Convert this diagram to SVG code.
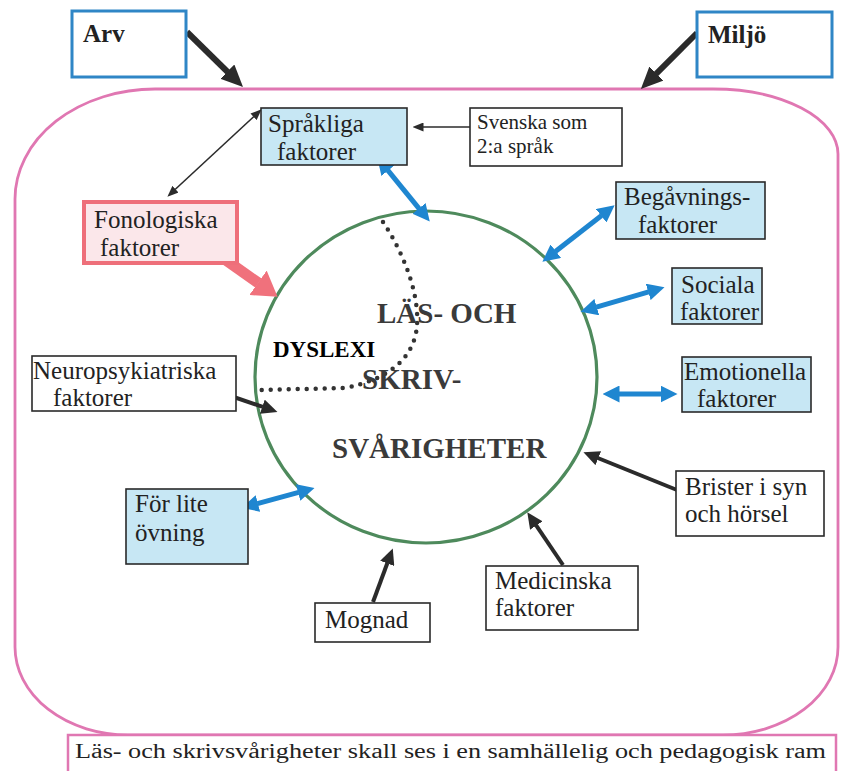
<svg xmlns="http://www.w3.org/2000/svg" width="842" height="771" viewBox="0 0 842 771">
<style>
.t{font-family:"Liberation Serif","Times New Roman",serif;font-size:25px;fill:#222}
.ts{font-family:"Liberation Serif","Times New Roman",serif;font-size:21px;fill:#222}
.tb{font-family:"Liberation Serif","Times New Roman",serif;font-weight:bold;font-size:25px;fill:#222}
.tc{font-family:"Liberation Serif","Times New Roman",serif;font-weight:bold;font-size:29px;fill:#3a3a3a}
.td{font-family:"Liberation Serif","Times New Roman",serif;font-weight:bold;font-size:23px;fill:#000}
.box{fill:#fff;stroke:#2a2a2a;stroke-width:1.6}
.blue{fill:#c7e7f4;stroke:#2a2a2a;stroke-width:1.6}
.top{fill:#fff;stroke:#2f86c6;stroke-width:3}
.bk6{stroke:#2b2b2b;stroke-width:6;fill:none}
.bk4{stroke:#2b2b2b;stroke-width:4;fill:none}
.bk1{stroke:#2b2b2b;stroke-width:1.6;fill:none}
.bl{stroke:#1f86d0;stroke-width:5;fill:none}
.pk{stroke:#f0717c;stroke-width:11;fill:none}
</style>
<defs>
<marker id="hBig" markerUnits="userSpaceOnUse" markerWidth="22" markerHeight="20" refX="0.5" refY="10" orient="auto" viewBox="0 0 22 20"><path d="M0,0 L22,10 L0,20 z" fill="#2b2b2b"/></marker>
<marker id="hMed" markerUnits="userSpaceOnUse" markerWidth="16" markerHeight="15" refX="0.5" refY="7.5" orient="auto" viewBox="0 0 16 15"><path d="M0,0 L16,7.5 L0,15 z" fill="#2b2b2b"/></marker>
<marker id="hThin" markerUnits="userSpaceOnUse" markerWidth="11" markerHeight="9" refX="0.5" refY="4.5" orient="auto-start-reverse" viewBox="0 0 11 9"><path d="M0,0 L11,4.5 L0,9 z" fill="#2b2b2b"/></marker>
<marker id="hBlue" markerUnits="userSpaceOnUse" markerWidth="17" markerHeight="17" refX="0.5" refY="8.5" orient="auto-start-reverse" viewBox="0 0 17 17"><path d="M0,0 L17,8.5 L0,17 z" fill="#1f86d0"/></marker>
<marker id="hPink" markerUnits="userSpaceOnUse" markerWidth="24" markerHeight="30" refX="0.5" refY="15" orient="auto" viewBox="0 0 24 30"><path d="M0,0 L24,15 L0,30 z" fill="#f0717c"/></marker>
</defs>
<rect width="842" height="771" fill="#fff"/>

<g id="frame">
<path d="M155,89 L713,89 A125,65 0 0 1 838,154 L838,647 A115,88 0 0 1 723,735 L128,735 A113,88 0 0 1 15,647 L15,199 A140,110 0 0 1 155,89 Z" fill="none" stroke="#e077b2" stroke-width="2.8"/>
</g>

<g id="center">
<ellipse cx="426" cy="377" rx="171" ry="166" fill="none" stroke="#4e8a5c" stroke-width="3.2"/>
<path d="M383,222 C405,255 422,300 416,333 C410,362 385,380 345,388 L260,390" fill="none" stroke="#333" stroke-width="4.5" stroke-dasharray="0 9" stroke-linecap="round"/>
<text class="tc" x="377" y="323">LÄS- OCH</text>
<text class="tc" x="362" y="389">SKRIV-</text>
<text class="tc" x="332" y="458">SVÅRIGHETER</text>
<text class="td" x="273" y="357">DYSLEXI</text>
</g>

<g id="connectors">
<line class="bk6" x1="187" y1="32" x2="227.7" y2="72" marker-end="url(#hBig)"/>
<line class="bk6" x1="697" y1="33" x2="656.1" y2="73.9" marker-end="url(#hBig)"/>
<line class="bk1" x1="470" y1="127" x2="423" y2="127" marker-end="url(#hThin)"/>
<line class="bk1" x1="253.9" y1="116.5" x2="175.1" y2="189.5" marker-start="url(#hThin)" marker-end="url(#hThin)"/>
<line class="bl" x1="387.7" y1="170.2" x2="419.3" y2="208.8" marker-start="url(#hBlue)" marker-end="url(#hBlue)"/>
<line class="bl" x1="601.6" y1="215.5" x2="555.4" y2="251.5" marker-start="url(#hBlue)" marker-end="url(#hBlue)"/>
<line class="bl" x1="648.7" y1="291.8" x2="596.3" y2="307.2" marker-start="url(#hBlue)" marker-end="url(#hBlue)"/>
<line class="bl" x1="619" y1="394" x2="661" y2="394" marker-start="url(#hBlue)" marker-end="url(#hBlue)"/>
<line class="bl" x1="257.4" y1="503.6" x2="298.6" y2="492.4" marker-start="url(#hBlue)" marker-end="url(#hBlue)"/>
<line class="bk4" x1="677" y1="490" x2="597.8" y2="458" marker-end="url(#hMed)"/>
<line class="bk4" x1="563" y1="565" x2="536" y2="525.2" marker-end="url(#hMed)"/>
<line class="bk4" x1="373" y1="602" x2="387.4" y2="563" marker-end="url(#hMed)"/>
<line class="bk4" x1="222" y1="393" x2="262.8" y2="406.9" marker-end="url(#hMed)"/>
<line class="pk" x1="223" y1="258" x2="258.4" y2="283.1" marker-end="url(#hPink)"/>
</g>

<g id="arv">
<rect class="top" x="72" y="11" width="114" height="66"/>
<text class="tb" x="83" y="42">Arv</text>
</g>
<g id="miljo">
<rect class="top" x="697" y="12" width="135" height="65"/>
<text class="tb" x="708" y="43">Miljö</text>
</g>
<g id="sprakliga">
<rect class="blue" x="261" y="108" width="146" height="57"/>
<text class="t" x="268" y="132">Språkliga</text>
<text class="t" x="277" y="160">faktorer</text>
</g>
<g id="svenska">
<rect class="box" x="470" y="108" width="152" height="58"/>
<text class="ts" x="477" y="129">Svenska som</text>
<text class="ts" x="477" y="153">2:a språk</text>
</g>
<g id="fonologiska">
<rect x="84" y="202" width="153" height="61" fill="#fbe7ea" stroke="#ee6f7a" stroke-width="4"/>
<text class="t" x="94" y="228">Fonologiska</text>
<text class="t" x="100" y="256">faktorer</text>
</g>
<g id="begavnings">
<rect class="blue" x="616" y="182" width="149" height="57"/>
<text class="t" x="624" y="205">Begåvnings-</text>
<text class="t" x="638" y="233">faktorer</text>
</g>
<g id="sociala">
<rect class="blue" x="672" y="268" width="90" height="56"/>
<text class="t" x="681" y="293">Sociala</text>
<text class="t" x="680" y="320">faktorer</text>
</g>
<g id="emotionella">
<rect class="blue" x="682" y="357" width="129" height="55"/>
<text class="t" x="684" y="380">Emotionella</text>
<text class="t" x="697" y="407">faktorer</text>
</g>
<g id="brister">
<rect class="box" x="676" y="471" width="148" height="65"/>
<text class="t" x="685" y="495">Brister i syn</text>
<text class="t" x="685" y="522">och hörsel</text>
</g>
<g id="medicinska">
<rect class="box" x="486" y="566" width="152" height="64"/>
<text class="t" x="495" y="589">Medicinska</text>
<text class="t" x="495" y="616">faktorer</text>
</g>
<g id="mognad">
<rect class="box" x="315" y="603" width="115" height="39"/>
<text class="t" x="325" y="628">Mognad</text>
</g>
<g id="forlite">
<rect class="blue" x="126" y="489" width="122" height="75"/>
<text class="t" x="135" y="512">För lite</text>
<text class="t" x="135" y="541">övning</text>
</g>
<g id="neuro">
<rect class="box" x="32" y="356" width="204" height="55"/>
<text class="t" x="33" y="379">Neuropsykiatriska</text>
<text class="t" x="53" y="406">faktorer</text>
</g>
<g id="footer">
<rect x="68" y="735" width="768" height="42" fill="#fff" stroke="#e077b2" stroke-width="2.5"/>
<text class="t" x="75" y="758" style="font-size:20px" textLength="751" lengthAdjust="spacingAndGlyphs">Läs- och skrivsvårigheter skall ses i en samhällelig och pedagogisk ram</text>
</g>
</svg>
